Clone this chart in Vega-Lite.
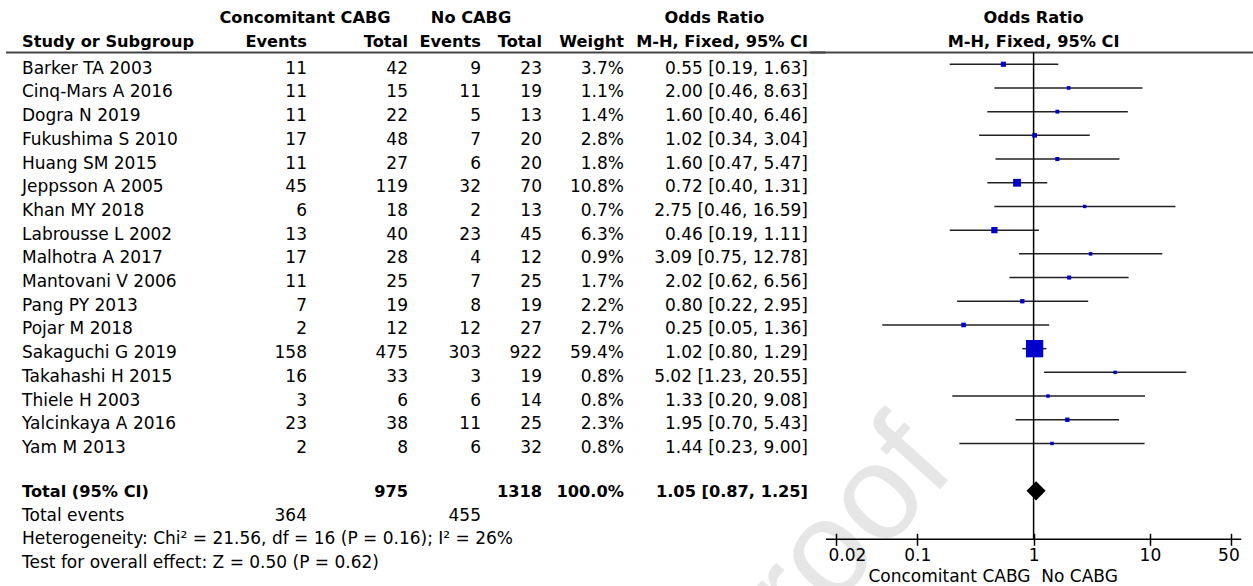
{
"$schema":"https://vega.github.io/schema/vega-lite/v6.json",
"padding":{"left":5,"top":5,"right":10,"bottom":0},
"spacing":0,
"bounds":"flush",
"config":{"view":{"stroke":null},"text":{"font":"DejaVu Sans","fontSize":17,"color":"black","baseline":"alphabetic"}},
"datasets":{
"studies":[
{"study":"Barker TA 2003","e1":11,"n1":42,"e2":9,"n2":23,"weight":0.037,"or":0.55,"lo":0.19,"hi":1.63,"ci":"0.55 [0.19, 1.63]"},
{"study":"Cinq-Mars A 2016","e1":11,"n1":15,"e2":11,"n2":19,"weight":0.011,"or":2.00,"lo":0.46,"hi":8.63,"ci":"2.00 [0.46, 8.63]"},
{"study":"Dogra N 2019","e1":11,"n1":22,"e2":5,"n2":13,"weight":0.014,"or":1.60,"lo":0.40,"hi":6.46,"ci":"1.60 [0.40, 6.46]"},
{"study":"Fukushima S 2010","e1":17,"n1":48,"e2":7,"n2":20,"weight":0.028,"or":1.02,"lo":0.34,"hi":3.04,"ci":"1.02 [0.34, 3.04]"},
{"study":"Huang SM 2015","e1":11,"n1":27,"e2":6,"n2":20,"weight":0.018,"or":1.60,"lo":0.47,"hi":5.47,"ci":"1.60 [0.47, 5.47]"},
{"study":"Jeppsson A 2005","e1":45,"n1":119,"e2":32,"n2":70,"weight":0.108,"or":0.72,"lo":0.40,"hi":1.31,"ci":"0.72 [0.40, 1.31]"},
{"study":"Khan MY 2018","e1":6,"n1":18,"e2":2,"n2":13,"weight":0.007,"or":2.75,"lo":0.46,"hi":16.59,"ci":"2.75 [0.46, 16.59]"},
{"study":"Labrousse L 2002","e1":13,"n1":40,"e2":23,"n2":45,"weight":0.063,"or":0.46,"lo":0.19,"hi":1.11,"ci":"0.46 [0.19, 1.11]"},
{"study":"Malhotra A 2017","e1":17,"n1":28,"e2":4,"n2":12,"weight":0.009,"or":3.09,"lo":0.75,"hi":12.78,"ci":"3.09 [0.75, 12.78]"},
{"study":"Mantovani V 2006","e1":11,"n1":25,"e2":7,"n2":25,"weight":0.017,"or":2.02,"lo":0.62,"hi":6.56,"ci":"2.02 [0.62, 6.56]"},
{"study":"Pang PY 2013","e1":7,"n1":19,"e2":8,"n2":19,"weight":0.022,"or":0.80,"lo":0.22,"hi":2.95,"ci":"0.80 [0.22, 2.95]"},
{"study":"Pojar M 2018","e1":2,"n1":12,"e2":12,"n2":27,"weight":0.027,"or":0.25,"lo":0.05,"hi":1.36,"ci":"0.25 [0.05, 1.36]"},
{"study":"Sakaguchi G 2019","e1":158,"n1":475,"e2":303,"n2":922,"weight":0.594,"or":1.02,"lo":0.80,"hi":1.29,"ci":"1.02 [0.80, 1.29]"},
{"study":"Takahashi H 2015","e1":16,"n1":33,"e2":3,"n2":19,"weight":0.008,"or":5.02,"lo":1.23,"hi":20.55,"ci":"5.02 [1.23, 20.55]"},
{"study":"Thiele H 2003","e1":3,"n1":6,"e2":6,"n2":14,"weight":0.008,"or":1.33,"lo":0.20,"hi":9.08,"ci":"1.33 [0.20, 9.08]"},
{"study":"Yalcinkaya A 2016","e1":23,"n1":38,"e2":11,"n2":25,"weight":0.023,"or":1.95,"lo":0.70,"hi":5.43,"ci":"1.95 [0.70, 5.43]"},
{"study":"Yam M 2013","e1":2,"n1":8,"e2":6,"n2":32,"weight":0.008,"or":1.44,"lo":0.23,"hi":9.00,"ci":"1.44 [0.23, 9.00]"}
],
"overall":[{"study":"Total (95% CI)","n1":975,"n2":1318,"weight":1,"or":1.05,"lo":0.87,"hi":1.25,"ci":"1.05 [0.87, 1.25]"}],
"events":[{"study":"Total events","e1":364,"e2":455}],
"notes":[{"study":"Heterogeneity: Chi² = 21.56, df = 16 (P = 0.16); I² = 26%"},{"study":"Test for overall effect: Z = 0.50 (P = 0.62)"}]
},
"hconcat":[
{"width":235,"height":568.8,
"encoding":{"y":{"field":"study","type":"nominal","axis":null,"scale":{"domain":["header1","header2","Barker TA 2003","Cinq-Mars A 2016","Dogra N 2019","Fukushima S 2010","Huang SM 2015","Jeppsson A 2005","Khan MY 2018","Labrousse L 2002","Malhotra A 2017","Mantovani V 2006","Pang PY 2013","Pojar M 2018","Sakaguchi G 2019","Takahashi H 2015","Thiele H 2003","Yalcinkaya A 2016","Yam M 2013","gap","Total (95% CI)","Total events","Heterogeneity: Chi² = 21.56, df = 16 (P = 0.16); I² = 26%","Test for overall effect: Z = 0.50 (P = 0.62)"],"paddingInner":0,"paddingOuter":0}}},
"layer":[
{"data":{"values":[{}]},"mark":{"type":"rule","strokeWidth":2,"color":"#444"},"encoding":{"y":{"datum":"Barker TA 2003","type":"nominal","bandPosition":0,"axis":null}}},
{"data":{"values":[{"label":"Study or Subgroup"}]},"mark":{"type":"text","fontWeight":"bold","fontSize":16.2,"align":"left","dx":16,"dy":6},"encoding":{"x":{"value":0},"y":{"datum":"header2","type":"nominal","axis":null},"text":{"field":"label"}}},
{"data":{"name":"studies"},"mark":{"type":"text","align":"left","dx":16,"dy":9.5},"encoding":{"x":{"value":0},"text":{"field":"study"}}},
{"data":{"name":"overall"},"mark":{"type":"text","align":"left","fontWeight":"bold","fontSize":16.2,"dx":16,"dy":6},"encoding":{"x":{"value":0},"text":{"field":"study"}}},
{"data":{"name":"events"},"mark":{"type":"text","align":"left","dx":16,"dy":6},"encoding":{"x":{"value":0},"text":{"field":"study"}}},
{"data":{"name":"notes"},"mark":{"type":"text","align":"left","dx":16,"dy":6},"encoding":{"x":{"value":0},"text":{"field":"study"}}}
]},
{"width":66,"height":568.8,
"encoding":{"y":{"field":"study","type":"nominal","axis":null,"scale":{"domain":["header1","header2","Barker TA 2003","Cinq-Mars A 2016","Dogra N 2019","Fukushima S 2010","Huang SM 2015","Jeppsson A 2005","Khan MY 2018","Labrousse L 2002","Malhotra A 2017","Mantovani V 2006","Pang PY 2013","Pojar M 2018","Sakaguchi G 2019","Takahashi H 2015","Thiele H 2003","Yalcinkaya A 2016","Yam M 2013","gap","Total (95% CI)","Total events","Heterogeneity: Chi² = 21.56, df = 16 (P = 0.16); I² = 26%","Test for overall effect: Z = 0.50 (P = 0.62)"],"paddingInner":0,"paddingOuter":0}}},
"layer":[
{"data":{"values":[{}]},"mark":{"type":"rule","strokeWidth":2,"color":"#444"},"encoding":{"y":{"datum":"Barker TA 2003","type":"nominal","bandPosition":0,"axis":null}}},
{"data":{"values":[{"label":"Concomitant CABG"}]},"mark":{"type":"text","fontWeight":"bold","fontSize":16.2,"align":"center","dx":-2,"dy":6},"encoding":{"x":{"value":"width"},"y":{"datum":"header1","type":"nominal","axis":null},"text":{"field":"label"}}},
{"data":{"values":[{"label":"Events"}]},"mark":{"type":"text","fontWeight":"bold","fontSize":16.2,"align":"right","dy":6},"encoding":{"x":{"value":"width"},"y":{"datum":"header2","type":"nominal","axis":null},"text":{"field":"label"}}},
{"data":{"name":"studies"},"mark":{"type":"text","align":"right","dy":9.5},"encoding":{"x":{"value":"width"},"text":{"field":"e1","type":"nominal"}}},
{"data":{"name":"events"},"mark":{"type":"text","align":"right","dy":6},"encoding":{"x":{"value":"width"},"text":{"field":"e1","type":"nominal"}}}
]},
{"width":101,"height":568.8,
"encoding":{"y":{"field":"study","type":"nominal","axis":null,"scale":{"domain":["header1","header2","Barker TA 2003","Cinq-Mars A 2016","Dogra N 2019","Fukushima S 2010","Huang SM 2015","Jeppsson A 2005","Khan MY 2018","Labrousse L 2002","Malhotra A 2017","Mantovani V 2006","Pang PY 2013","Pojar M 2018","Sakaguchi G 2019","Takahashi H 2015","Thiele H 2003","Yalcinkaya A 2016","Yam M 2013","gap","Total (95% CI)","Total events","Heterogeneity: Chi² = 21.56, df = 16 (P = 0.16); I² = 26%","Test for overall effect: Z = 0.50 (P = 0.62)"],"paddingInner":0,"paddingOuter":0}}},
"layer":[
{"data":{"values":[{}]},"mark":{"type":"rule","strokeWidth":2,"color":"#444"},"encoding":{"y":{"datum":"Barker TA 2003","type":"nominal","bandPosition":0,"axis":null}}},
{"data":{"values":[{"label":"Total"}]},"mark":{"type":"text","fontWeight":"bold","fontSize":16.2,"align":"right","dy":6},"encoding":{"x":{"value":"width"},"y":{"datum":"header2","type":"nominal","axis":null},"text":{"field":"label"}}},
{"data":{"name":"studies"},"mark":{"type":"text","align":"right","dy":9.5},"encoding":{"x":{"value":"width"},"text":{"field":"n1","type":"nominal"}}},
{"data":{"name":"overall"},"mark":{"type":"text","align":"right","fontWeight":"bold","fontSize":16.2,"dy":6},"encoding":{"x":{"value":"width"},"text":{"field":"n1","type":"nominal"}}}
]},
{"width":73,"height":568.8,
"encoding":{"y":{"field":"study","type":"nominal","axis":null,"scale":{"domain":["header1","header2","Barker TA 2003","Cinq-Mars A 2016","Dogra N 2019","Fukushima S 2010","Huang SM 2015","Jeppsson A 2005","Khan MY 2018","Labrousse L 2002","Malhotra A 2017","Mantovani V 2006","Pang PY 2013","Pojar M 2018","Sakaguchi G 2019","Takahashi H 2015","Thiele H 2003","Yalcinkaya A 2016","Yam M 2013","gap","Total (95% CI)","Total events","Heterogeneity: Chi² = 21.56, df = 16 (P = 0.16); I² = 26%","Test for overall effect: Z = 0.50 (P = 0.62)"],"paddingInner":0,"paddingOuter":0}}},
"layer":[
{"data":{"values":[{}]},"mark":{"type":"rule","strokeWidth":2,"color":"#444"},"encoding":{"y":{"datum":"Barker TA 2003","type":"nominal","bandPosition":0,"axis":null}}},
{"data":{"values":[{"label":"No CABG"}]},"mark":{"type":"text","fontWeight":"bold","fontSize":16.2,"align":"center","dx":-10,"dy":6},"encoding":{"x":{"value":"width"},"y":{"datum":"header1","type":"nominal","axis":null},"text":{"field":"label"}}},
{"data":{"values":[{"label":"Events"}]},"mark":{"type":"text","fontWeight":"bold","fontSize":16.2,"align":"right","dy":6},"encoding":{"x":{"value":"width"},"y":{"datum":"header2","type":"nominal","axis":null},"text":{"field":"label"}}},
{"data":{"name":"studies"},"mark":{"type":"text","align":"right","dy":9.5},"encoding":{"x":{"value":"width"},"text":{"field":"e2","type":"nominal"}}},
{"data":{"name":"events"},"mark":{"type":"text","align":"right","dy":6},"encoding":{"x":{"value":"width"},"text":{"field":"e2","type":"nominal"}}}
]},
{"width":61,"height":568.8,
"encoding":{"y":{"field":"study","type":"nominal","axis":null,"scale":{"domain":["header1","header2","Barker TA 2003","Cinq-Mars A 2016","Dogra N 2019","Fukushima S 2010","Huang SM 2015","Jeppsson A 2005","Khan MY 2018","Labrousse L 2002","Malhotra A 2017","Mantovani V 2006","Pang PY 2013","Pojar M 2018","Sakaguchi G 2019","Takahashi H 2015","Thiele H 2003","Yalcinkaya A 2016","Yam M 2013","gap","Total (95% CI)","Total events","Heterogeneity: Chi² = 21.56, df = 16 (P = 0.16); I² = 26%","Test for overall effect: Z = 0.50 (P = 0.62)"],"paddingInner":0,"paddingOuter":0}}},
"layer":[
{"data":{"values":[{}]},"mark":{"type":"rule","strokeWidth":2,"color":"#444"},"encoding":{"y":{"datum":"Barker TA 2003","type":"nominal","bandPosition":0,"axis":null}}},
{"data":{"values":[{"label":"Total"}]},"mark":{"type":"text","fontWeight":"bold","fontSize":16.2,"align":"right","dy":6},"encoding":{"x":{"value":"width"},"y":{"datum":"header2","type":"nominal","axis":null},"text":{"field":"label"}}},
{"data":{"name":"studies"},"mark":{"type":"text","align":"right","dy":9.5},"encoding":{"x":{"value":"width"},"text":{"field":"n2","type":"nominal"}}},
{"data":{"name":"overall"},"mark":{"type":"text","align":"right","fontWeight":"bold","fontSize":16.2,"dy":6},"encoding":{"x":{"value":"width"},"text":{"field":"n2","type":"nominal"}}}
]},
{"width":82,"height":568.8,
"encoding":{"y":{"field":"study","type":"nominal","axis":null,"scale":{"domain":["header1","header2","Barker TA 2003","Cinq-Mars A 2016","Dogra N 2019","Fukushima S 2010","Huang SM 2015","Jeppsson A 2005","Khan MY 2018","Labrousse L 2002","Malhotra A 2017","Mantovani V 2006","Pang PY 2013","Pojar M 2018","Sakaguchi G 2019","Takahashi H 2015","Thiele H 2003","Yalcinkaya A 2016","Yam M 2013","gap","Total (95% CI)","Total events","Heterogeneity: Chi² = 21.56, df = 16 (P = 0.16); I² = 26%","Test for overall effect: Z = 0.50 (P = 0.62)"],"paddingInner":0,"paddingOuter":0}}},
"layer":[
{"data":{"values":[{}]},"mark":{"type":"rule","strokeWidth":2,"color":"#444"},"encoding":{"y":{"datum":"Barker TA 2003","type":"nominal","bandPosition":0,"axis":null}}},
{"data":{"values":[{"label":"Weight"}]},"mark":{"type":"text","fontWeight":"bold","fontSize":16.2,"align":"right","dy":6},"encoding":{"x":{"value":"width"},"y":{"datum":"header2","type":"nominal","axis":null},"text":{"field":"label"}}},
{"data":{"name":"studies"},"mark":{"type":"text","align":"right","dy":9.5},"encoding":{"x":{"value":"width"},"text":{"field":"weight","type":"quantitative","format":".1%"}}},
{"data":{"name":"overall"},"mark":{"type":"text","align":"right","fontWeight":"bold","fontSize":16.2,"dy":6},"encoding":{"x":{"value":"width"},"text":{"field":"weight","type":"quantitative","format":".1%"}}}
]},
{"width":201.4,"height":568.8,
"encoding":{"y":{"field":"study","type":"nominal","axis":null,"scale":{"domain":["header1","header2","Barker TA 2003","Cinq-Mars A 2016","Dogra N 2019","Fukushima S 2010","Huang SM 2015","Jeppsson A 2005","Khan MY 2018","Labrousse L 2002","Malhotra A 2017","Mantovani V 2006","Pang PY 2013","Pojar M 2018","Sakaguchi G 2019","Takahashi H 2015","Thiele H 2003","Yalcinkaya A 2016","Yam M 2013","gap","Total (95% CI)","Total events","Heterogeneity: Chi² = 21.56, df = 16 (P = 0.16); I² = 26%","Test for overall effect: Z = 0.50 (P = 0.62)"],"paddingInner":0,"paddingOuter":0}}},
"layer":[
{"data":{"values":[{}]},"mark":{"type":"rule","strokeWidth":2,"color":"#444"},"encoding":{"y":{"datum":"Barker TA 2003","type":"nominal","bandPosition":0,"axis":null}}},
{"data":{"values":[{"label":"Odds Ratio"}]},"mark":{"type":"text","fontWeight":"bold","fontSize":16.2,"align":"center","dx":-111,"dy":6},"encoding":{"x":{"value":"width"},"y":{"datum":"header1","type":"nominal","axis":null},"text":{"field":"label"}}},
{"data":{"values":[{"label":"M-H, Fixed, 95% CI"}]},"mark":{"type":"text","fontWeight":"bold","fontSize":16.2,"align":"right","dx":-17.4,"dy":6},"encoding":{"x":{"value":"width"},"y":{"datum":"header2","type":"nominal","axis":null},"text":{"field":"label"}}},
{"data":{"name":"studies"},"mark":{"type":"text","align":"right","dx":-17.4,"dy":9.5},"encoding":{"x":{"value":"width"},"text":{"field":"ci"}}},
{"data":{"name":"overall"},"mark":{"type":"text","align":"right","fontWeight":"bold","fontSize":16.2,"dx":-17.4,"dy":6},"encoding":{"x":{"value":"width"},"text":{"field":"ci"}}}
]},
{"width":415.2,"height":534.3,
"encoding":{"y":{"field":"study","type":"nominal","axis":null,"scale":{"domain":["header1","header2","Barker TA 2003","Cinq-Mars A 2016","Dogra N 2019","Fukushima S 2010","Huang SM 2015","Jeppsson A 2005","Khan MY 2018","Labrousse L 2002","Malhotra A 2017","Mantovani V 2006","Pang PY 2013","Pojar M 2018","Sakaguchi G 2019","Takahashi H 2015","Thiele H 2003","Yalcinkaya A 2016","Yam M 2013","gap","Total (95% CI)"],"paddingInner":0,"paddingOuter":0.772,"align":0}}},
"layer":[
{"data":{"name":"studies"},"mark":{"type":"rule","strokeWidth":1.5,"color":"#222"},"encoding":{
 "x":{"field":"lo","type":"quantitative","scale":{"type":"log","domain":[0.02,50],"padding":10,"nice":false,"zero":false},
  "axis":{"values":[0.02,0.1,1,10,50],"format":"~g","domain":false,"grid":false,"zindex":1,"offset":-6,"tickSize":12,"tickWidth":1.5,"tickColor":"black","labelPadding":2,"labelFont":"DejaVu Sans","labelFontSize":17,"labelColor":"black","labelFlush":12,"labelFlushOffset":8,"labelOverlap":false,"labelBound":false,"title":"Concomitant CABG\u00a0 No CABG","titleFont":"DejaVu Sans","titleFontSize":17,"titleFontWeight":"normal","titleColor":"black","titlePadding":5,"titleX":166.6,"titleAlign":"center"}},
 "x2":{"field":"hi"}}},
{"data":{"values":[{"label":"Journal Pre-proof"}]},"mark":{"type":"text","font":"Liberation Sans","fontSize":135,"color":"#e6e6e6","align":"right","angle":-48},"encoding":{"x":{"datum":0.22,"type":"quantitative"},"y":{"datum":"gap","type":"nominal","bandPosition":0.62,"axis":null},"text":{"field":"label"}}},
{"data":{"values":[{}]},"mark":{"type":"rule","strokeWidth":2,"color":"#444"},"encoding":{"x":{"datum":0.012,"type":"quantitative"},"x2":{"datum":78},"y":{"datum":"Barker TA 2003","type":"nominal","bandPosition":0,"axis":null}}},
{"data":{"values":[{}]},"mark":{"type":"rule","strokeWidth":1.5,"color":"black"},"encoding":{"y":{"value":"height"}}},
{"data":{"values":[{}]},"mark":{"type":"rule","strokeWidth":1.5,"color":"black"},"encoding":{"x":{"datum":1,"type":"quantitative"},"y":{"datum":"Barker TA 2003","type":"nominal","bandPosition":0,"axis":null},"y2":{"value":"height"}}},
{"data":{"name":"studies"},"mark":{"type":"point","shape":"square","filled":true,"color":"#0000cc","opacity":1,"strokeWidth":0},"encoding":{"x":{"field":"or","type":"quantitative"},"size":{"field":"weight","type":"quantitative","scale":{"domain":[0,0.594],"range":[8,299]},"legend":null}}},
{"data":{"name":"overall"},"mark":{"type":"point","shape":"diamond","filled":true,"color":"black","opacity":1,"size":370,"strokeWidth":0},"encoding":{"x":{"field":"or","type":"quantitative"}}},
{"data":{"values":[{"label":"Odds Ratio"}]},"mark":{"type":"text","fontWeight":"bold","fontSize":16.2,"align":"center","dy":6},"encoding":{"x":{"datum":1,"type":"quantitative"},"y":{"datum":"header1","type":"nominal","axis":null},"text":{"field":"label"}}},
{"data":{"values":[{"label":"M-H, Fixed, 95% CI"}]},"mark":{"type":"text","fontWeight":"bold","fontSize":16.2,"align":"center","dy":6},"encoding":{"x":{"datum":1,"type":"quantitative"},"y":{"datum":"header2","type":"nominal","axis":null},"text":{"field":"label"}}}
]}
]
}
